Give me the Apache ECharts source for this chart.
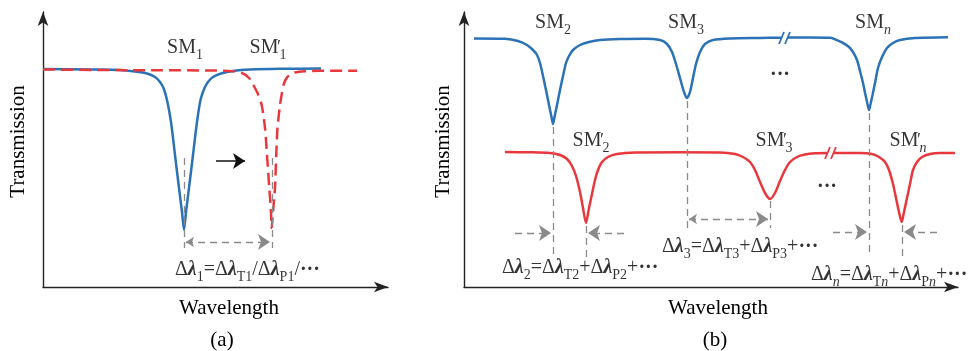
<!DOCTYPE html>
<html>
<head>
<meta charset="utf-8">
<script src="https://cdn.jsdelivr.net/npm/echarts@6/dist/echarts.min.js"></script>
<style>
  html, body { margin: 0; padding: 0; background: #fff; }
  #main { width: 972px; height: 351px; }
</style>
</head>
<body>
<div id="main"></div>
<script>
// values: [wavelength, transmission] in arbitrary units
// (a) one resonance SM1 and its shifted copy SM1'
const blueA = [[43,218],[90,217.5],[120,217],[135,215.5],[147,213.5],[155,210],[160,205],[163.5,199],[167,187],[171,165],[175,132],[179,99],[182,75],[184,57],[186,75],[189,99],[193,132],[197,165],[200.5,187],[204.5,199],[208,205],[213,210],[221,213.5],[233,216],[250,217.4],[280,218.2],[321,218.5]];
const redA = [[43,217.5],[100,217],[160,216.7],[210,216.5],[232,215.8],[242,214],[249,209],[253.3,202],[258,193],[261.7,182],[265,159],[267,132],[269.3,99],[271,75],[271.7,59],[273,75],[275,99],[276.2,131],[277.5,159],[280,182],[281.8,193],[283.5,202],[286,208],[289,211.5],[295,214.5],[305,215.8],[320,216.2],[357,216.2]];

// (b) several resonances, before (blue) and after (red)
const blueB = [[474,248.5],[505,248.2],[518,246],[527,242],[533,237],[537,232],[540,224],[543,211],[546,197],[549,182],[551.5,170],[553,163],[554.5,170],[557,182],[560,197],[563,211],[566,224],[569,231],[573,237],[580,242],[589,245],[600,247],[620,248],[645,248.3],
  [660,247],[667,243],[672,235],[676,223],[680,209],[684,195],[687,189],[690,195],[693,209],[696,223],[700,235],[705,243],[713,247],[730,248.5],[760,249],[781.5,249.3],null,
  [787.5,249.4],[810,249.5],[830,249.2],[843,244],[849,240],[853,235],[857,227],[860,216],[863,204],[865.5,192],[867.5,183],[869,177],[870.5,183],[872.5,192],[875,204],[878,219],[882,230],[887,239],[893,244],[900,247],[915,249],[948,249.7]];
const redB = [[505,135],[530,134.7],[550,134],[560,132],[567,128],[572,121],[576,111],[580,95],[583,79],[586,64],[589,79],[592,93],[595,107],[598,117],[602,125],[608,130],[617,133],[635,134.5],[680,134.7],[720,134.5],
  [735,133],[743,130],[750,125],[755,117],[760,105],[765,94],[770,88],[775,94],[780,106],[785,117],[790,125],[797,130],[805,132.5],[815,133.7],[827.5,134],null,
  [833.5,134],[860,134],[872,133],[879,130],[885,125],[889,117],[893,103],[896,89],[899,75],[901.7,65],[904,75],[907,89],[910,103],[913,117],[917,125],[922,130],[930,133],[940,134],[955,134]];

// axis break marks
const breaksBlue = [[[779,243],[784,255]], [[785,243],[790,255]]];
const breaksRed = [[[825,128],[830,140]], [[831,128],[836,140]]];

// guide lines and shift arrows
const guidesA = [[[184,129],[184,39]], [[272,129],[272,39]]];
const shiftA = [[[186,45],[270,45]]];
const moveA = [[[216,126],[245,126]]];
const guidesB = [[[553,160],[553,30]], [[586,61],[586,30]], [[687,186],[687,59]], [[770,86],[770,59]], [[869,174],[869,30]], [[902,62],[902,30]]];
const pointB = [[[515,54],[551,54]], [[624,54],[588,54]], [[833,55],[867,55]], [[937,55],[904,55]]];
const shiftB = [[[689,68],[768,68]]];

const F = 'Liberation Serif';
const INK = '#000';
const BLUE = '#2b72b6';
const RED = '#e8383d';
const GREY = '#8a8a8a';

const rich = {
  b: { fontFamily: F, fontSize: 20, lineHeight: 28, color: INK },
  s: { fontFamily: F, fontSize: 14, lineHeight: 14, verticalAlign: 'bottom', color: INK },
  si: { fontFamily: F, fontSize: 14, lineHeight: 14, verticalAlign: 'bottom', fontStyle: 'italic', color: INK },
  p: { fontFamily: F, fontSize: 18, lineHeight: 28, width: 1, color: INK },
  l: { fontFamily: F, fontSize: 20, lineHeight: 28, fontStyle: 'italic', fontWeight: 'bold', color: INK },
  dot: { fontFamily: F, fontSize: 20, lineHeight: 28, fontWeight: 'bold', color: INK }
};

function txt(x, y, f, pos) {
  return { value: [x, y], label: { formatter: f, position: pos || 'inside' } };
}

function xAx(i, min, max, pad) {
  return {
    gridIndex: i, type: 'value', min: min, max: max,
    name: 'Wavelength', nameLocation: 'middle', nameGap: 11,
    nameTextStyle: { fontFamily: F, fontSize: 21, color: INK, padding: [0, 0, 0, pad] },
    axisLine: { show: true, onZero: false, symbol: ['none', 'arrow'], symbolSize: [8, 14], lineStyle: { color: '#222', width: 1.4 } },
    axisTick: { show: false }, axisLabel: { show: false }, splitLine: { show: false }
  };
}
function yAx(i, gap) {
  return {
    gridIndex: i, type: 'value', min: 0, max: 275,
    name: 'Transmission', nameLocation: 'middle', nameGap: gap, nameRotate: 90,
    nameTextStyle: { fontFamily: F, fontSize: 21, color: INK, padding: [0, 0, 0, 16] },
    axisLine: { show: true, onZero: false, symbol: ['none', 'arrow'], symbolSize: [8, 14], lineStyle: { color: '#222', width: 1.4 } },
    axisTick: { show: false }, axisLabel: { show: false }, splitLine: { show: false }
  };
}
function curve(i, data, color, dash) {
  return {
    type: 'line', xAxisIndex: i, yAxisIndex: i, data: data, showSymbol: false, smooth: 0.25,
    connectNulls: false, silent: true, z: 3,
    lineStyle: { color: color, width: 2.5, type: dash ? [12, 6] : 'solid' }
  };
}
function segs(i, list, color, width, dash, sym) {
  return {
    type: 'lines', coordinateSystem: 'cartesian2d', xAxisIndex: i, yAxisIndex: i, silent: true, z: 4,
    symbol: sym || ['none', 'none'], symbolSize: [8, 12],
    lineStyle: { color: color, width: width, type: dash ? [7, 5] : 'solid', opacity: 1 },
    data: list.map(c => ({ coords: c }))
  };
}
function labels(i, data) {
  return {
    type: 'scatter', xAxisIndex: i, yAxisIndex: i, symbolSize: 0, silent: true, z: 5,
    label: { show: true, rich: rich }, data: data
  };
}

const chart = echarts.init(document.getElementById('main'), null, { renderer: 'canvas' });
chart.setOption({
  animation: false,
  backgroundColor: '#fff',
  grid: [
    { left: 43, top: 12, width: 345, height: 275 },
    { left: 464, top: 12, width: 494, height: 275 }
  ],
  xAxis: [xAx(0, 43, 388, 27), xAx(1, 464, 958, 14)],
  yAxis: [yAx(0, 14), yAx(1, 10)],
  graphic: [
    { type: 'text', x: 222, y: 340, style: { text: '(a)', fontFamily: F, fontSize: 21, fill: INK, textAlign: 'center', textVerticalAlign: 'middle' } },
    { type: 'text', x: 715, y: 340, style: { text: '(b)', fontFamily: F, fontSize: 21, fill: INK, textAlign: 'center', textVerticalAlign: 'middle' } }
  ],
  series: [
    curve(0, blueA, BLUE, false),
    curve(0, redA, RED, true),
    segs(0, guidesA, GREY, 1.3, true),
    segs(0, shiftA, GREY, 1.3, true, ['arrow', 'arrow']),
    segs(0, moveA, '#111', 1.5, false, ['none', 'arrow']),
    labels(0, [
      txt(185, 239, '{b|SM}{s|1}'),
      txt(268, 239, '{b|SM}{p|′}{s|1}'),
      txt(170, 17, '{b|Δ}{l|λ}{s|1}{b|=Δ}{l|λ}{s|T1}{b|/Δ}{l|λ}{s|P1}{b|/}{dot|···}', 'right')
    ]),
    curve(1, blueB, BLUE, false),
    curve(1, redB, RED, false),
    segs(1, breaksBlue, BLUE, 1.8, false),
    segs(1, breaksRed, RED, 1.8, false),
    segs(1, guidesB, GREY, 1.3, true),
    segs(1, pointB, GREY, 1.3, true, ['none', 'arrow']),
    segs(1, shiftB, GREY, 1.3, true, ['arrow', 'arrow']),
    labels(1, [
      txt(553, 264, '{b|SM}{s|2}'),
      txt(686, 264, '{b|SM}{s|3}'),
      txt(873, 264, '{b|SM}{si|n}'),
      txt(591, 146, '{b|SM}{p|′}{s|2}'),
      txt(774, 146, '{b|SM}{p|′}{s|3}'),
      txt(908, 146, '{b|SM}{p|′}{si|n}'),
      txt(780, 212, '{dot|···}'),
      txt(827, 100, '{dot|···}'),
      txt(497, 19, '{b|Δ}{l|λ}{s|2}{b|=Δ}{l|λ}{s|T2}{b|+Δ}{l|λ}{s|P2}{b|+}{dot|···}', 'right'),
      txt(657, 40, '{b|Δ}{l|λ}{s|3}{b|=Δ}{l|λ}{s|T3}{b|+Δ}{l|λ}{s|P3}{b|+}{dot|···}', 'right'),
      txt(806, 12, '{b|Δ}{l|λ}{si|n}{b|=Δ}{l|λ}{s|T}{si|n}{b|+Δ}{l|λ}{s|P}{si|n}{b|+}{dot|···}', 'right')
    ])
  ]
});
</script>
</body>
</html>
